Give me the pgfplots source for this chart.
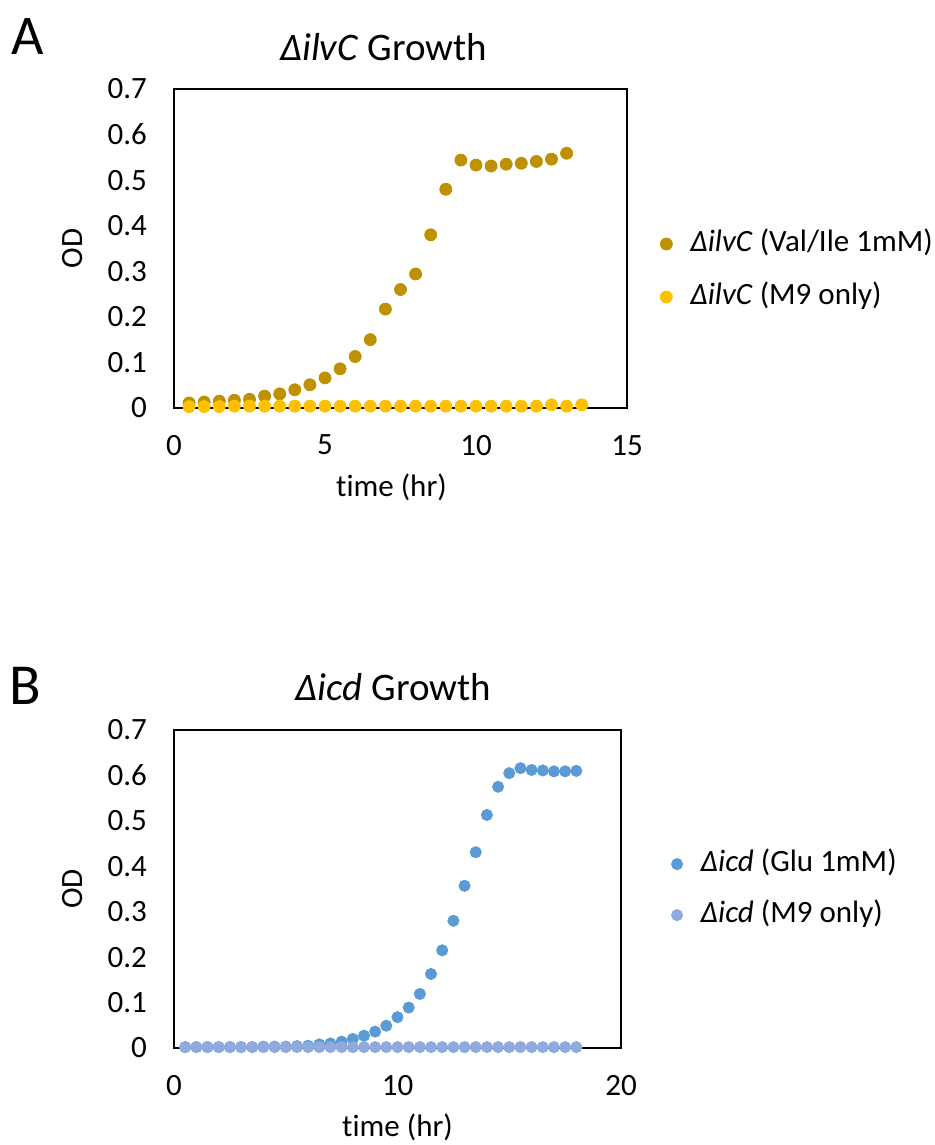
\documentclass[border=0pt]{standalone}
\usepackage{fontspec}
\setmainfont[Ligatures={NoCommon}]{Carlito}
\usepackage{pgfplots}
\pgfplotsset{compat=1.18}

\definecolor{goldA}{HTML}{BF9000}
\definecolor{yellA}{HTML}{FFC000}
\definecolor{blueB}{HTML}{5B9BD5}
\definecolor{lblueB}{HTML}{8FAADC}

\pgfplotsset{
  panel/.style={
    scale only axis,
    axis line style={black, line width=0.6pt},
    tick style={draw=none},
    major tick length=0pt,
    ymin=0, ymax=0.7,
    ytick={0,0.1,...,0.7},
    yticklabels={0,0.1,0.2,0.3,0.4,0.5,0.6,0.7},
    tick label style={font=\fontsize{15.5}{18}\selectfont},
    /pgf/number format/assume math mode=true,
    yticklabel style={xshift=-10pt},
    xticklabel style={yshift=-10pt},
    xlabel={time (hr)},
    ylabel={OD},
    label style={font=\fontsize{15.5}{18}\selectfont},
    legend cell align=left,
    legend style={draw=none, fill=none, inner sep=0pt, font=\fontsize{15.5}{18}\selectfont,
      nodes={text height=11pt, text depth=3.5pt, inner sep=0pt},
      column sep=9pt},
    legend image code/.code={\draw[#1] plot coordinates {(0pt,0pt)};},
  }
}

\begin{document}
\begin{tikzpicture}
\useasboundingbox (0,0) rectangle (467.5pt,572.5pt);

% ---------------- Panel A ----------------
\begin{axis}[panel,
  at={(87pt,368.5pt)}, anchor=south west,
  width=226.5pt, height=159.5pt,
  xmin=0, xmax=15, xtick={0,5,10,15},
  xlabel style={at={(axis description cs:0.48,-0.248)}, anchor=center},
  ylabel style={at={(axis description cs:-0.225,0.5)}, anchor=center},
  legend style={at={(1.0728,0.431)}, anchor=west, row sep=12pt},
]
\addplot[only marks, mark=*, mark size=3pt, color=goldA] coordinates {
(0.5,0.011) (1.0,0.013) (1.5,0.015) (2.0,0.017) (2.5,0.019) (3.0,0.026)
(3.5,0.031) (4.0,0.040) (4.5,0.051) (5.0,0.066) (5.5,0.086) (6.0,0.113)
(6.5,0.150) (7.0,0.217) (7.5,0.260) (8.0,0.294) (8.5,0.380) (9.0,0.480)
(9.5,0.544) (10.0,0.533) (10.5,0.531) (11.0,0.535) (11.5,0.537) (12.0,0.541)
(12.5,0.546) (13.0,0.559)
};
\addlegendentry{\textit{ΔilvC} (Val/Ile 1mM)}
\addplot[only marks, mark=*, mark size=3pt, color=yellA] coordinates {
(0.5,0.003) (1.0,0.003) (1.5,0.003) (2.0,0.004) (2.5,0.004) (3.0,0.004)
(3.5,0.004) (4.0,0.004) (4.5,0.004) (5.0,0.004) (5.5,0.004) (6.0,0.004)
(6.5,0.004) (7.0,0.004) (7.5,0.004) (8.0,0.004) (8.5,0.004) (9.0,0.004)
(9.5,0.004) (10.0,0.004) (10.5,0.004) (11.0,0.004) (11.5,0.004) (12.0,0.004)
(12.5,0.007) (13.0,0.004) (13.5,0.007)
};
\addlegendentry{\textit{ΔilvC} (M9 only)}
\end{axis}

% ---------------- Panel B ----------------
\begin{axis}[panel,
  at={(87pt,48.5pt)}, anchor=south west,
  width=223.5pt, height=159pt,
  xmin=0, xmax=20, xtick={0,10,20},
  xlabel style={at={(axis description cs:0.5,-0.248)}, anchor=center},
  ylabel style={at={(axis description cs:-0.228,0.5)}, anchor=center},
  legend style={at={(1.112,0.498)}, anchor=west, row sep=11pt},
]
\addplot[only marks, mark=*, mark size=2.8pt, color=blueB] coordinates {
(0.5,0.002) (1.0,0.002) (1.5,0.002) (2.0,0.002) (2.5,0.002) (3.0,0.002)
(3.5,0.002) (4.0,0.003) (4.5,0.003) (5.0,0.003) (5.5,0.004) (6.0,0.005)
(6.5,0.008) (7.0,0.010) (7.5,0.014) (8.0,0.020) (8.5,0.027) (9.0,0.036)
(9.5,0.049) (10.0,0.068) (10.5,0.089) (11.0,0.119) (11.5,0.163) (12.0,0.215)
(12.5,0.280) (13.0,0.357) (13.5,0.431) (14.0,0.513) (14.5,0.575) (15.0,0.605)
(15.5,0.616) (16.0,0.612) (16.5,0.611) (17.0,0.609) (17.5,0.609) (18.0,0.610)
};
\addlegendentry{\textit{Δicd} (Glu 1mM)}
\addplot[only marks, mark=*, mark size=2.8pt, color=lblueB] coordinates {
(0.5,0.002) (1.0,0.002) (1.5,0.002) (2.0,0.002) (2.5,0.002) (3.0,0.002)
(3.5,0.002) (4.0,0.002) (4.5,0.002) (5.0,0.002) (5.5,0.002) (6.0,0.002)
(6.5,0.002) (7.0,0.002) (7.5,0.002) (8.0,0.002) (8.5,0.002) (9.0,0.002)
(9.5,0.002) (10.0,0.002) (10.5,0.002) (11.0,0.002) (11.5,0.002) (12.0,0.002)
(12.5,0.002) (13.0,0.002) (13.5,0.002) (14.0,0.002) (14.5,0.002) (15.0,0.002)
(15.5,0.002) (16.0,0.002) (16.5,0.002) (17.0,0.002) (17.5,0.002) (18.0,0.002)
};
\addlegendentry{\textit{Δicd} (M9 only)}
\end{axis}

% titles and panel letters
\node[font=\fontsize{19.5}{23}\selectfont] at (191.75pt,549pt) {\textit{ΔilvC} Growth};
\node[font=\fontsize{19.5}{23}\selectfont] at (196.75pt,229pt) {\textit{Δicd} Growth};
\node[font=\fontsize{28}{32}\selectfont] at (14pt,554pt) {A};
\node[font=\fontsize{29}{33}\selectfont] at (12.5pt,229.5pt) {B};
\end{tikzpicture}
\end{document}
